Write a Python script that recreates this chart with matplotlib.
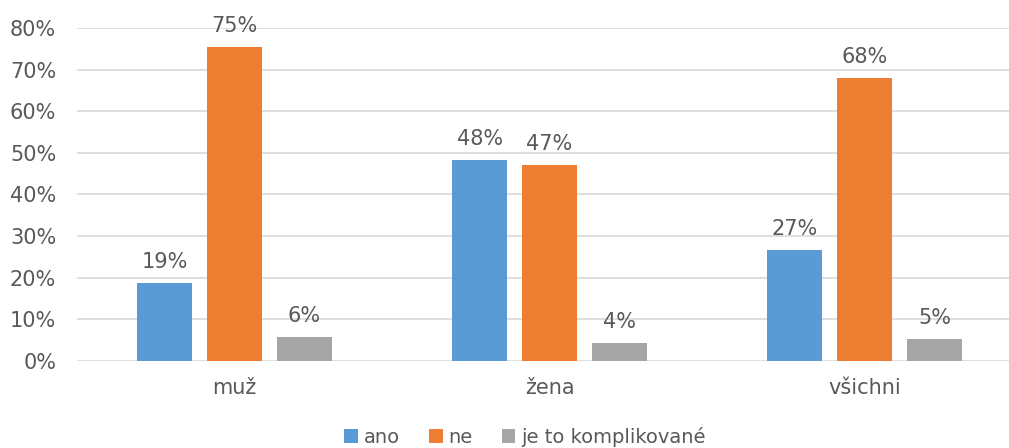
import matplotlib
matplotlib.use("Agg")
import matplotlib.pyplot as plt
import numpy as np

# data (percent)
categories = ["muž", "žena", "všichni"]
series = ["ano", "ne", "je to komplikované"]
ano = [18.7, 48.3, 26.7]
ne = [75.4, 47.1, 68.0]
kompl = [5.8, 4.3, 5.3]

COLORS = ["#5B9BD5", "#ED7D31", "#A5A5A5"]
TEXT = "#595959"
GRID = "#D9D9D9"

plt.rcParams["font.family"] = "DejaVu Sans"

fig = plt.figure(figsize=(10.09, 4.48), dpi=100)
ax = fig.add_axes([77 / 1009, 87 / 448, 945 / 1009, 333 / 448])

x = np.arange(len(categories))
width = 0.175
pitch = 0.222
for i, (vals, name) in enumerate(zip([ano, ne, kompl], series)):
    pos = x + (i - 1) * pitch
    bars = ax.bar(pos, vals, width=width, color=COLORS[i], label=name, zorder=3)
    for b, v in zip(bars, vals):
        ax.annotate(f"{v:.0f}%", xy=(b.get_x() + b.get_width() / 2, v),
                    xytext=(0, 8), textcoords="offset points",
                    ha="center", va="bottom", fontsize=15, color=TEXT,
                    annotation_clip=False)

ax.set_xlim(-0.5, 2.5)
ax.set_ylim(0, 80)
ax.set_yticks(range(0, 81, 10))
ax.set_yticklabels([f"{t}%" for t in range(0, 81, 10)])
ax.set_xticks(x)
ax.set_xticklabels(categories)
ax.tick_params(axis="both", length=0, labelsize=15, labelcolor=TEXT)
ax.tick_params(axis="y", pad=15)
ax.tick_params(axis="x", pad=12)
ax.yaxis.grid(True, color=GRID, lw=1.2, zorder=0)
for s in ax.spines.values():
    s.set_visible(False)

fig.legend(loc="center", bbox_to_anchor=(525 / 1009, 1 - 437 / 448), ncol=3,
           frameon=False, fontsize=14, labelcolor=TEXT, handlelength=0.7,
           handleheight=0.7, handletextpad=0.3, columnspacing=1.5)

fig.savefig("out.png", dpi=100, facecolor="white")
